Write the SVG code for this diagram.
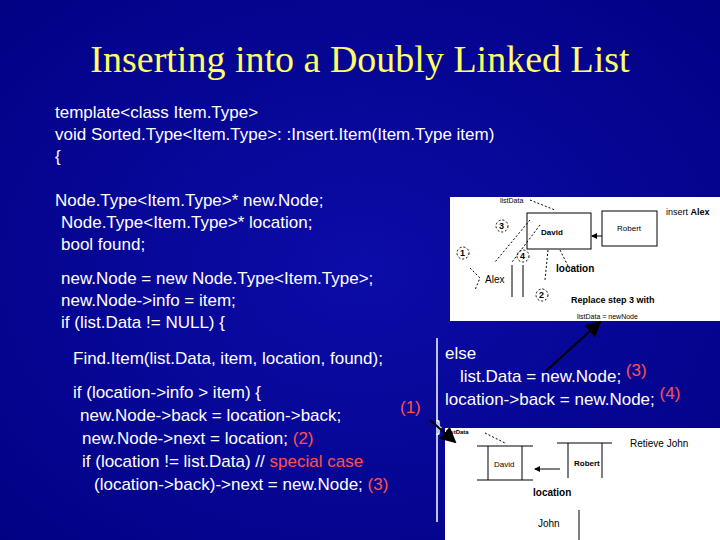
<svg xmlns="http://www.w3.org/2000/svg" width="720" height="540" viewBox="0 0 720 540">
<defs>
<radialGradient id="bg" cx="0.5" cy="0.5" r="0.8"><stop offset="0" stop-color="#0c0ca8"/><stop offset="1" stop-color="#000080"/></radialGradient>
<marker id="ah" markerWidth="8" markerHeight="8" refX="7" refY="4" orient="auto"><path d="M0,0 L8,4 L0,8z" fill="#000"/></marker>
<marker id="ahs" markerWidth="6" markerHeight="6" refX="5" refY="3" orient="auto"><path d="M0,0 L6,3 L0,6z" fill="#000"/></marker>
</defs>
<style>
.c{font-family:"Liberation Sans",Arial,sans-serif;font-size:17px;fill:#fff}
.r{fill:#ff5050}
.s{font-family:"Liberation Sans",Arial,sans-serif;fill:#000}
.d{stroke:#000;stroke-width:1;stroke-dasharray:2 2;fill:none}
.l{stroke:#000;stroke-width:1;fill:none}
</style>
<rect width="720" height="540" fill="url(#bg)"/>
<text x="360" y="72" text-anchor="middle" font-family="Liberation Serif,serif" font-size="38" fill="#ffff66">Inserting into a Doubly Linked List</text>
<g id="code">
<text class="c" x="55" y="118">template&lt;class Item.Type&gt;</text>
<text class="c" x="55" y="140">void Sorted.Type&lt;Item.Type&gt;: :Insert.Item(Item.Type item)</text>
<text class="c" x="55" y="162">{</text>
<text class="c" x="55" y="206">Node.Type&lt;Item.Type&gt;* new.Node;</text>
<text class="c" x="61" y="228">Node.Type&lt;Item.Type&gt;* location;</text>
<text class="c" x="61" y="250">bool found;</text>
<text class="c" x="61" y="284">new.Node = new Node.Type&lt;Item.Type&gt;;</text>
<text class="c" x="61" y="306">new.Node-&gt;info = item;</text>
<text class="c" x="61" y="328">if (list.Data != NULL) {</text>
<text class="c" x="73" y="364">Find.Item(list.Data, item, location, found);</text>
<text class="c" x="73" y="398">if (location-&gt;info &gt; item) {</text>
<text class="c" x="80" y="421">new.Node-&gt;back = location-&gt;back;</text><text class="c r" x="400" y="413">(1)</text>
<text class="c" x="82" y="444">new.Node-&gt;next = location; <tspan class="r">(2)</tspan></text>
<text class="c" x="82" y="467">if (location != list.Data) // <tspan class="r">special case</tspan></text>
<text class="c" x="94" y="490">(location-&gt;back)-&gt;next = new.Node; <tspan class="r">(3)</tspan></text>
<text class="c" x="445" y="359">else</text>
<text class="c" x="460" y="382">list.Data = new.Node; <tspan class="r" dy="-6">(3)</tspan></text>
<text class="c" x="445" y="405">location-&gt;back = new.Node; <tspan class="r" dy="-6">(4)</tspan></text>
<text class="c" x="436" y="432" font-size="14">}</text>
</g>
<line x1="437" y1="338" x2="437" y2="522" stroke="#fff" stroke-width="1.5"/>
<g id="pic1">
<rect x="450" y="197" width="270" height="124" fill="#fff"/>
<text class="s" x="500" y="203" font-size="7">listData</text>
<path class="d" d="M530,200 L555,210"/>
<rect x="527" y="213" width="64" height="36" class="l"/>
<text class="s" x="541" y="235" font-size="8" font-weight="bold">David</text>
<rect x="602" y="211" width="55" height="35" class="l"/>
<text class="s" x="617" y="231" font-size="8">Robert</text>
<line x1="602" y1="236" x2="592" y2="236" class="l" marker-end="url(#ahs)"/>
<text class="s" x="666" y="215" font-size="9">insert <tspan font-weight="bold">Alex</tspan></text>
<circle cx="502" cy="226" r="6" class="d"/><text class="s" x="499" y="229" font-size="9" font-weight="bold">3</text>
<circle cx="463" cy="253" r="6" class="d"/><text class="s" x="460" y="256" font-size="9" font-weight="bold">1</text>
<circle cx="523" cy="256" r="6" class="d"/><text class="s" x="520" y="259" font-size="9" font-weight="bold">4</text>
<circle cx="542" cy="295" r="6" class="d"/><text class="s" x="539" y="298" font-size="9" font-weight="bold">2</text>
<path class="d" d="M530,220 L495,262 M540,225 L512,262 M470,268 L480,278 L475,290 M548,250 L545,280 M560,250 L570,270"/>
<line x1="512" y1="265" x2="512" y2="297" class="l"/><line x1="523" y1="265" x2="523" y2="297" class="l"/>
<text class="s" x="485" y="283" font-size="10">Alex</text>
<text class="s" x="556" y="272" font-size="10" font-weight="bold">location</text>
<text class="s" x="571" y="303" font-size="9" font-weight="bold" font-family="Liberation Serif,serif">Replace step 3 with</text>
<text class="s" x="577" y="319" font-size="7">listData = newNode</text>
</g>
<g id="pic2">
<rect x="445" y="428" width="275" height="112" fill="#fff"/>
<text class="s" x="447" y="434" font-size="6" font-weight="bold">listData</text>
<path class="d" d="M485,433 L505,443"/>
<path class="l" d="M477,446 H533 M477,480 H533 M488,446 V480 M522,446 V480"/>
<text class="s" x="494" y="467" font-size="8">David</text>
<path class="l" d="M557,443 H612 M568,443 V478 M602,443 V478"/>
<text class="s" x="574" y="466" font-size="8" font-weight="bold">Robert</text>
<line x1="560" y1="469" x2="535" y2="469" class="l" marker-end="url(#ahs)"/>
<text class="s" x="630" y="447" font-size="10">Retieve John</text>
<text class="s" x="533" y="496" font-size="10" font-weight="bold">location</text>
<text class="s" x="538" y="527" font-size="10">John</text>
<line x1="579" y1="510" x2="579" y2="540" class="l"/>
</g>
<g id="connectors">
<line x1="545" y1="372" x2="600" y2="322" stroke="#000" stroke-width="2" marker-end="url(#ah)"/>
<line x1="430" y1="420" x2="455" y2="442" stroke="#000" stroke-width="2" marker-end="url(#ah)"/>
</g>
</svg>
